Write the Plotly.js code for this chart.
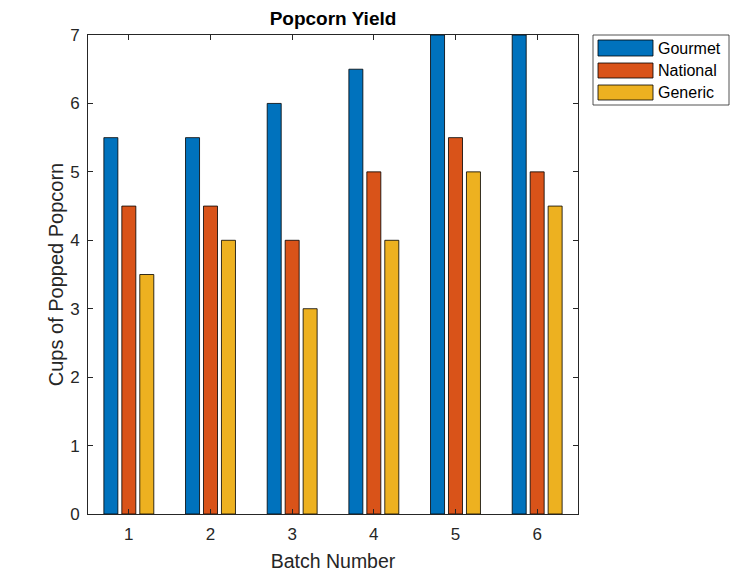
<!DOCTYPE html>
<html><head><meta charset="utf-8">
<script src="https://cdn.plot.ly/plotly-3.0.1.min.js"></script>
<style>body{margin:0;background:#fff}#chart{width:750px;height:578px}</style>
</head><body><div id="chart"></div>
<script>
const batches = [1, 2, 3, 4, 5, 6];
const seriesNames = ["Gourmet", "National", "Generic"];
const gourmet = [5.5, 5.5, 6.0, 6.5, 7.0, 7.0];
const national = [4.5, 4.5, 4.0, 5.0, 5.5, 5.0];
const generic = [3.5, 4.0, 3.0, 4.0, 5.0, 4.5];
const colors = ["#0072BD", "#D95319", "#EDB120"];
const yTicks = [0, 1, 2, 3, 4, 5, 6, 7];

const values = [gourmet, national, generic];
const font = "Liberation Sans, Arial, Helvetica, sans-serif";
const traces = values.map((v, i) => ({
  type: "bar", x: batches, y: v, name: seriesNames[i],
  marker: {color: colors[i], line: {color: "#000", width: 0.8}},
  showlegend: false, cliponaxis: true
}));

// custom MATLAB-like legend
const shapes = [{type: "rect", xref: "paper", yref: "paper", x0: (593 - 88) / 490, x1: (729 - 88) / 490,
  y0: (514 - 105) / 479, y1: 1.0, line: {color: "#262626", width: 0.8}, fillcolor: "#fff"}];
const annotations = [];
const rowTop = [40, 63, 85], rowBot = [56, 78, 100];
seriesNames.forEach((n, i) => {
  const y0 = (514 - rowBot[i]) / 479, y1 = (514 - rowTop[i]) / 479;
  shapes.push({type: "rect", xref: "paper", yref: "paper", x0: (598 - 88) / 490, x1: (653 - 88) / 490,
    y0: y0, y1: y1, fillcolor: colors[i], line: {color: "#000", width: 0.8}});
  annotations.push({xref: "paper", yref: "paper", x: (656 - 88) / 490, y: (y0 + y1) / 2, xanchor: "left", yanchor: "middle",
    text: n, showarrow: false, font: {family: font, size: 16, color: "#000"}});
});

const layout = {
  width: 750, height: 578,
  margin: {l: 88, r: 172, t: 35, b: 64},
  paper_bgcolor: "#fff", plot_bgcolor: "#fff",
  barmode: "group", bargap: 0.34, bargroupgap: 0.22,
  font: {family: font, color: "#262626", size: 17},
  title: {text: "<b>Popcorn Yield</b>", x: (88 + 245) / 750, xanchor: "center", y: 1 - 18 / 578, yanchor: "middle",
    font: {family: font, size: 19, color: "#000"}},
  xaxis: {range: [0.5, 6.5], tickvals: batches, ticktext: batches.map(String), ticks: "inside", ticklen: 5,
    tickcolor: "#262626", showline: true, linecolor: "#262626", linewidth: 1, mirror: "ticks", showgrid: false,
    zeroline: false, tickfont: {size: 17, color: "#262626"}, ticklabelstandoff: 5,
    title: {text: "Batch Number", font: {size: 19.5, color: "#262626"}, standoff: 10}},
  yaxis: {range: [0, 7], tickvals: yTicks, ticks: "inside", ticklen: 5, tickcolor: "#262626",
    showline: true, linecolor: "#262626", linewidth: 1, mirror: "ticks", showgrid: false, zeroline: false,
    tickfont: {size: 17, color: "#262626"}, ticklabelstandoff: 4,
    title: {text: "Cups of Popped Popcorn", font: {size: 20, color: "#262626"}, standoff: 1}},
  shapes: shapes, annotations: annotations
};
Plotly.newPlot("chart", traces, layout, {displayModeBar: false, staticPlot: true});
</script></body></html>
